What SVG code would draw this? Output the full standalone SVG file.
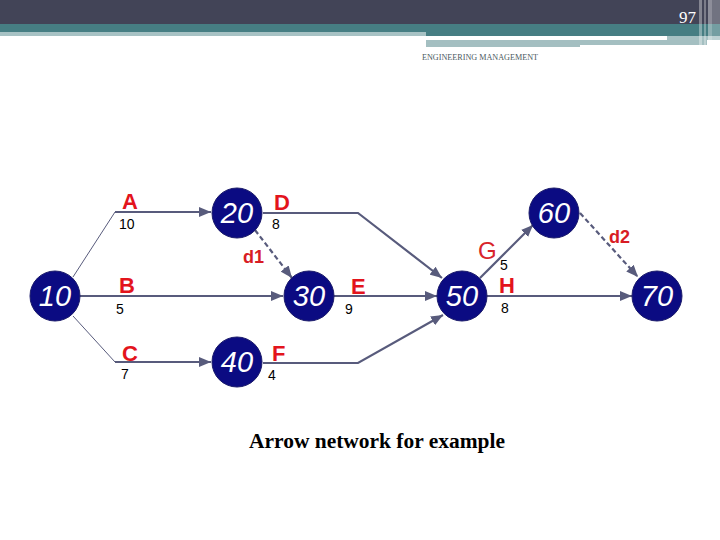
<svg xmlns="http://www.w3.org/2000/svg" width="720" height="540" viewBox="0 0 720 540">
<style>
.node{fill:#0b0b82;stroke:#1a1a6a;stroke-width:1}
.num{font-family:"Liberation Sans",Arial,sans-serif;font-style:italic;font-size:29px;fill:#fff;text-anchor:middle}
.lbl{font-family:"Liberation Sans",Arial,sans-serif;font-weight:bold;font-size:22px;fill:#e3141c}
.g{font-family:"Liberation Sans",Arial,sans-serif;font-size:24px;fill:#d8242a}
.dl{font-family:"Liberation Sans",Arial,sans-serif;font-weight:bold;font-size:18px;fill:#d81c24}
.w{font-family:"Liberation Sans",Arial,sans-serif;font-size:14px;fill:#000}
.e{fill:none;stroke:#585b7c;stroke-width:2.2}
.thin{fill:none;stroke:#585b7c;stroke-width:1}
.dash{fill:none;stroke:#585b7c;stroke-width:2.2;stroke-dasharray:5 3}
</style>
<defs>
<marker id="ah" viewBox="0 0 12 10" refX="12" refY="5" markerWidth="12" markerHeight="10" markerUnits="userSpaceOnUse" orient="auto">
<path d="M0,0 L12,5 L0,10 Z" fill="#585b7c"/>
</marker>
</defs>
<g id="header">
<rect x="0" y="0" width="720" height="24" fill="#424457"/>
<rect x="0" y="24" width="720" height="12" fill="#467e83"/>
<rect x="0" y="32" width="426" height="4" fill="#a7c2c4"/>
<rect x="667" y="36" width="53" height="4" fill="#a7c2c4"/>
<rect x="426" y="40" width="281" height="5" fill="#a4bfc1"/>
<rect x="426" y="44" width="154" height="3" fill="#a4bfc1"/>
<rect x="699" y="0" width="3" height="48" fill="#fff" opacity="0.35"/>
<rect x="704" y="0" width="2" height="48" fill="#fff" opacity="0.3"/>
<rect x="708" y="0" width="4" height="48" fill="#fff" opacity="0.4"/>
<rect x="712" y="0" width="8" height="48" fill="#fff" opacity="0.25"/>
<text x="696" y="23" font-family="Liberation Serif,serif" font-size="17" fill="#fff" text-anchor="end">97</text>
<text x="422" y="60" font-family="Liberation Serif,serif" font-size="8" fill="#4a5a60" textLength="116" lengthAdjust="spacingAndGlyphs">ENGINEERING MANAGEMENT</text>
</g>
<g id="connectors">
<path class="thin" d="M73,277 L115,212"/>
<path class="e" d="M115,212 L211,212" marker-end="url(#ah)"/>
<path class="e" d="M80,296 L283,296" marker-end="url(#ah)"/>
<path class="thin" d="M73,316 L115,362"/>
<path class="e" d="M115,362 L211,362" marker-end="url(#ah)"/>
<path class="e" d="M263,213 L358,213 L442,278" marker-end="url(#ah)"/>
<path class="dash" d="M255,230 L292,278" marker-end="url(#ah)"/>
<path class="e" d="M334,296 L437,296" marker-end="url(#ah)"/>
<path class="e" d="M263,363 L358,363 L443,315" marker-end="url(#ah)"/>
<path class="e" d="M480,278 L533,225" marker-end="url(#ah)"/>
<path class="e" d="M487,296 L632,296" marker-end="url(#ah)"/>
<path class="dash" d="M580,213 L638,277" marker-end="url(#ah)"/>
</g>
<g id="labels">
<text class="lbl" x="122" y="209">A</text>
<text class="w" x="119" y="229">10</text>
<text class="lbl" x="119" y="293">B</text>
<text class="w" x="116" y="314">5</text>
<text class="lbl" x="122" y="361">C</text>
<text class="w" x="121" y="379">7</text>
<text class="lbl" x="274" y="210">D</text>
<text class="w" x="272" y="229">8</text>
<text class="dl" x="243" y="263">d1</text>
<text class="lbl" x="272" y="361">F</text>
<text class="w" x="268" y="380">4</text>
<text class="lbl" x="351" y="294">E</text>
<text class="w" x="345" y="314">9</text>
<text class="g" x="478" y="259">G</text>
<text class="w" x="500" y="270">5</text>
<text class="lbl" x="499" y="293">H</text>
<text class="w" x="501" y="313">8</text>
<text class="dl" x="609" y="243">d2</text>
</g>
<g id="n10"><circle class="node" cx="55" cy="296" r="25"/><text class="num" x="55" y="306">10</text></g>
<g id="n20"><circle class="node" cx="237" cy="213" r="25"/><text class="num" x="237" y="223">20</text></g>
<g id="n30"><circle class="node" cx="309" cy="296" r="25"/><text class="num" x="309" y="306">30</text></g>
<g id="n40"><circle class="node" cx="237" cy="362" r="25"/><text class="num" x="237" y="372">40</text></g>
<g id="n50"><circle class="node" cx="462" cy="296" r="25"/><text class="num" x="462" y="306">50</text></g>
<g id="n60"><circle class="node" cx="554" cy="213" r="25"/><text class="num" x="554" y="223">60</text></g>
<g id="n70"><circle class="node" cx="657" cy="296" r="25"/><text class="num" x="657" y="306">70</text></g>
<text x="249" y="448" font-family="Liberation Serif,serif" font-weight="bold" font-size="20" fill="#000" textLength="256" lengthAdjust="spacingAndGlyphs">Arrow network for example</text>
</svg>
